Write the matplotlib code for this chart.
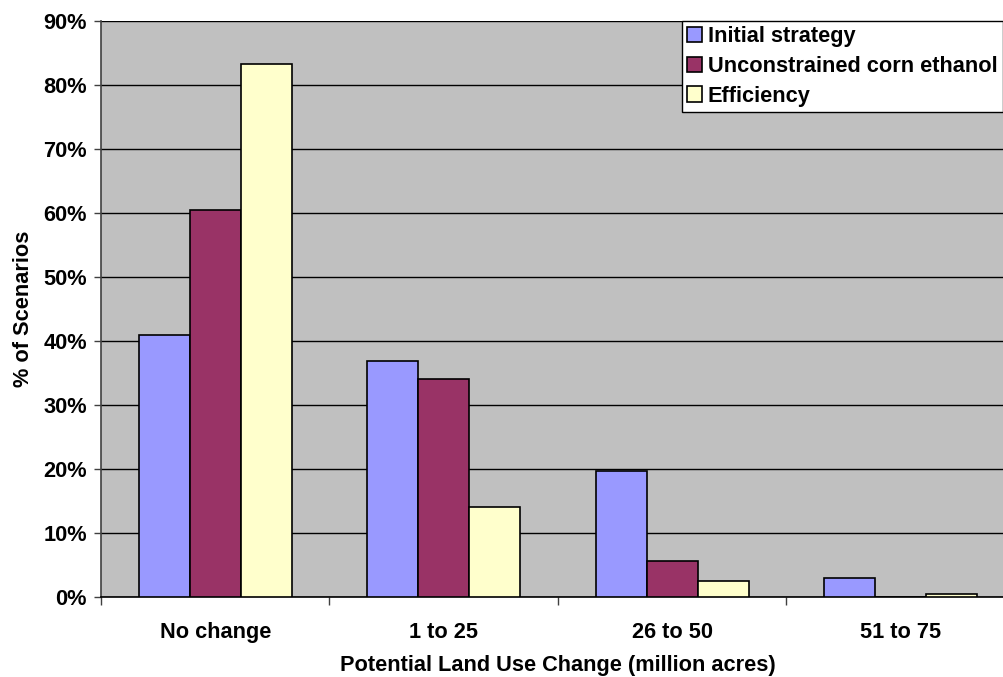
import matplotlib
matplotlib.use("Agg")
import matplotlib.pyplot as plt
import numpy as np
from matplotlib.ticker import FuncFormatter

categories = ["No change", "1 to 25", "26 to 50", "51 to 75"]
initial_strategy = [40.9, 36.8, 19.6, 2.9]
unconstrained_corn = [60.4, 34.0, 5.6, 0.0]
efficiency = [83.2, 14.0, 2.5, 0.5]
series_names = ["Initial strategy", "Unconstrained corn ethanol", "Efficiency"]
colors = ["#9999FF", "#993366", "#FFFFCC"]

plt.rcParams['font.family'] = ['Liberation Sans', 'DejaVu Sans']
plt.rcParams['font.weight'] = 'bold'

FS = 15.7
W, H = 1004, 677
fig = plt.figure(figsize=(W / 100, H / 100), dpi=100)
left, right, top, bottom = 101, 1015, 20.7, 596.7
ax = fig.add_axes([left / W, 1 - bottom / H, (right - left) / W, (bottom - top) / H])
ax.set_facecolor("#C0C0C0")

x = np.arange(len(categories))
bw = 0.223
for i, (vals, name, c) in enumerate(zip([initial_strategy, unconstrained_corn, efficiency], series_names, colors)):
    ax.bar(x + (i - 1) * bw, vals, width=bw, color=c, edgecolor="black", linewidth=1.2,
           label=name, zorder=3)

ax.set_xlim(-0.5, len(categories) - 0.5)
ax.set_ylim(0, 90)
ax.set_yticks(np.arange(0, 91, 10))
ax.yaxis.set_major_formatter(FuncFormatter(lambda v, p: f"{int(v)}%"))
ax.yaxis.grid(True, color="black", linewidth=1.0, zorder=1)
ax.set_axisbelow(True)

ax.set_xticks(x)
ax.set_xticklabels(categories)
ax.set_xticks(np.arange(-0.5, len(categories), 1.0), minor=True)
ax.tick_params(axis='x', which='major', length=0, pad=18, labelsize=FS)
ax.tick_params(axis='x', which='minor', length=6, width=1, color="#404040")
ax.tick_params(axis='y', length=5, width=1, color="#404040", labelsize=FS, pad=5)

for s in ["top", "right"]:
    ax.spines[s].set_visible(False)
ax.spines["left"].set_color("#404040")
ax.spines["left"].set_linewidth(1.2)
ax.spines["bottom"].set_color("black")
ax.spines["bottom"].set_linewidth(1.2)

ax.set_xlabel("Potential Land Use Change (million acres)", fontsize=FS, fontweight='bold', labelpad=9)
ax.set_ylabel("% of Scenarios", fontsize=FS, fontweight='bold', labelpad=7)

leg = ax.legend(loc="upper right", bbox_to_anchor=((1003 - left) / (right - left), 1.0),
                fontsize=FS, frameon=True, fancybox=False, edgecolor="black",
                framealpha=1, borderpad=0.25, handlelength=0.7, handleheight=0.7,
                handletextpad=0.25, labelspacing=0.4, borderaxespad=0)
leg.get_frame().set_linewidth(1.0)
for t in leg.get_texts():
    t.set_fontweight('bold')

fig.savefig("out.png", dpi=100)
